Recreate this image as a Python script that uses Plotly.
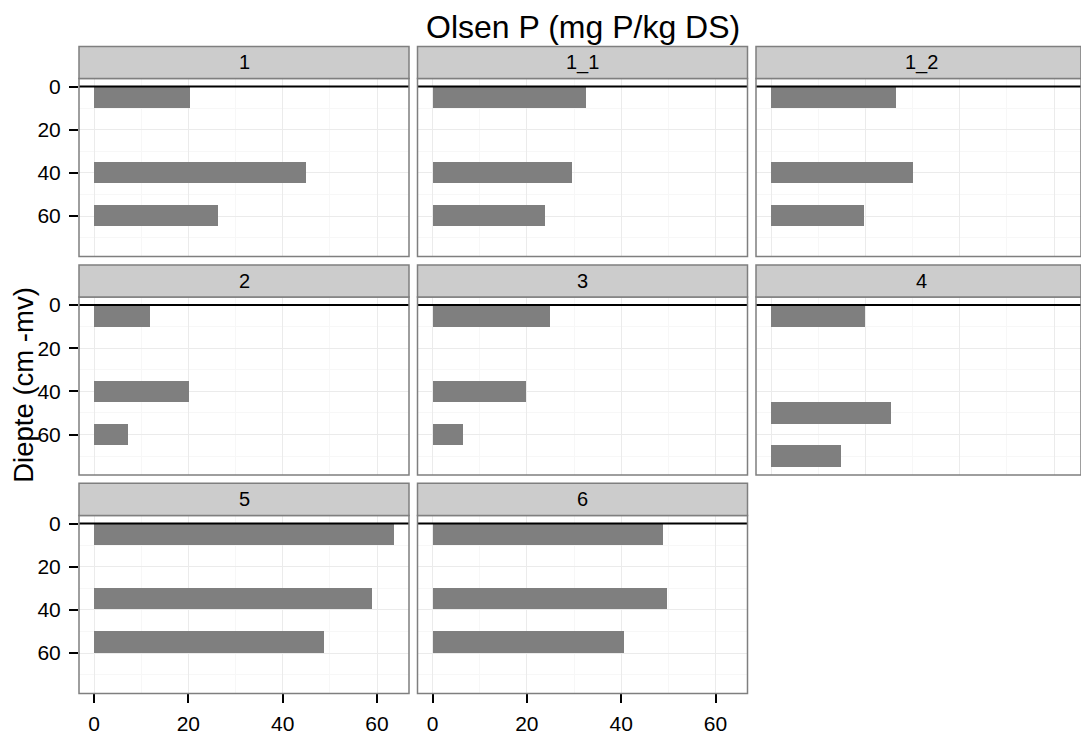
import plotly.graph_objects as go

# Olsen P per monsterpunt en diepte-laag
panels = ["1", "1_1", "1_2", "2", "3", "4", "5", "6"]

laag_boven = {
    "1": [0, 35, 55], "1_1": [0, 35, 55], "1_2": [0, 35, 55],
    "2": [0, 35, 55], "3": [0, 35, 55], "4": [0, 45, 65],
    "5": [0, 30, 50], "6": [0, 30, 50],
}
laag_onder = {
    "1": [10, 45, 65], "1_1": [10, 45, 65], "1_2": [10, 45, 65],
    "2": [10, 45, 65], "3": [10, 45, 65], "4": [10, 55, 75],
    "5": [10, 40, 60], "6": [10, 40, 60],
}
olsen_p = {
    "1": [20.4, 45.0, 26.3],
    "1_1": [32.5, 29.5, 23.7],
    "1_2": [26.5, 30.1, 19.7],
    "2": [11.9, 20.2, 7.3],
    "3": [24.9, 19.7, 6.4],
    "4": [20.0, 25.5, 14.8],
    "5": [63.6, 58.9, 48.7],
    "6": [48.8, 49.7, 40.4],
}

x_ticks = [0, 20, 40, 60]
y_ticks = [0, 20, 40, 60]

W, H = 1081, 735
FONT = "Liberation Sans, Arial, sans-serif"
GREY50 = "#7F7F7F"

def fx(px):
    return px / W

def fy(py):
    return 1 - py / H

# shared scales (ggplot-style 5% expansion)
all_vals = [v for p in panels for v in olsen_p[p]]
all_depth = [d for p in panels for d in laag_onder[p]]
xmax = max(all_vals)
ymax = max(all_depth)
x_lo, x_hi = -0.05 * xmax, xmax * 1.05
y_lo, y_hi = -0.05 * ymax, ymax * 1.05

col_left = [79, 417.5, 756]
panel_w = 330
row_top = [76.5, 298, 519.5]
panel_h = 180.5
strip_h = 32.5
px_per_unit = panel_w / (x_hi - x_lo)
n_rows = 3

fig = go.Figure()
shapes = []
annotations = []
layout = {}

for i, p in enumerate(panels):
    r, c = divmod(i, 3)
    n = "" if i == 0 else str(i + 1)
    left = col_left[c]
    right = min(left + panel_w, W)
    top = row_top[r]
    bottom = top + panel_h
    xr_hi = x_lo + (right - left) / px_per_unit

    centers = [(a + b) / 2 for a, b in zip(laag_boven[p], laag_onder[p])]
    widths = [b - a for a, b in zip(laag_boven[p], laag_onder[p])]
    fig.add_trace(go.Bar(
        x=olsen_p[p], y=centers, width=widths, orientation="h",
        marker=dict(color=GREY50, line=dict(width=0)),
        xaxis="x" + n, yaxis="y" + n, showlegend=False,
    ))

    last_row = (r == n_rows - 1)
    layout["xaxis" + n] = dict(
        domain=[fx(left), fx(right)], range=[x_lo, xr_hi], anchor="y" + n,
        tickvals=x_ticks, showticklabels=last_row,
        ticks="outside" if last_row else "", ticklen=9, tickwidth=1.5,
        tickcolor="black", tickfont=dict(family=FONT, size=21, color="black"),
        ticklabelstandoff=2,
        showgrid=True, gridcolor="#EBEBEB", gridwidth=1.2,
        minor=dict(tickvals=[10, 30, 50], showgrid=True,
                   gridcolor="#F7F7F7", gridwidth=1.2),
        zeroline=False, showline=False, fixedrange=True,
    )
    first_col = (c == 0)
    layout["yaxis" + n] = dict(
        domain=[fy(bottom), fy(top)], range=[y_hi, y_lo], anchor="x" + n,
        tickvals=y_ticks, showticklabels=first_col,
        ticks="outside" if first_col else "", ticklen=9, tickwidth=1.5,
        tickcolor="black", tickfont=dict(family=FONT, size=21, color="black"),
        ticklabelstandoff=4,
        showgrid=True, gridcolor="#EBEBEB", gridwidth=1.2,
        minor=dict(tickvals=[10, 30, 50, 70], showgrid=True,
                   gridcolor="#F7F7F7", gridwidth=1.2),
        zeroline=False, showline=False, fixedrange=True,
    )

    # surface line at depth 0
    shapes.append(dict(type="line", xref="x" + n + " domain", yref="y" + n,
                       x0=0, x1=1, y0=0, y1=0,
                       line=dict(color="black", width=2)))
    # panel border
    shapes.append(dict(type="rect", xref="paper", yref="paper",
                       x0=fx(left), x1=fx(right), y0=fy(bottom), y1=fy(top),
                       line=dict(color=GREY50, width=1.5), fillcolor="rgba(0,0,0,0)"))
    # facet strip
    shapes.append(dict(type="rect", xref="paper", yref="paper",
                       x0=fx(left), x1=fx(right), y0=fy(top), y1=fy(top - strip_h),
                       line=dict(color=GREY50, width=1.5), fillcolor="#CCCCCC"))
    annotations.append(dict(text=p, xref="paper", yref="paper",
                            x=fx(left + panel_w / 2), y=fy(top - strip_h / 2),
                            xanchor="center", yanchor="middle", showarrow=False,
                            font=dict(family=FONT, size=20, color="black")))

annotations.append(dict(text="Olsen P (mg P/kg DS)", xref="paper", yref="paper",
                        x=fx(582.5), y=fy(24), xanchor="center", yanchor="middle",
                        showarrow=False, font=dict(family=FONT, size=32, color="black")))
annotations.append(dict(text="Diepte (cm -mv)", xref="paper", yref="paper",
                        x=fx(24), y=fy(387), xanchor="center", yanchor="middle",
                        textangle=-90, showarrow=False,
                        font=dict(family=FONT, size=27.5, color="black")))

fig.update_layout(
    width=W, height=H, margin=dict(l=0, r=0, t=0, b=0),
    paper_bgcolor="white", plot_bgcolor="white",
    shapes=shapes, annotations=annotations, bargap=0, **layout,
)

fig.write_html("out.html")
